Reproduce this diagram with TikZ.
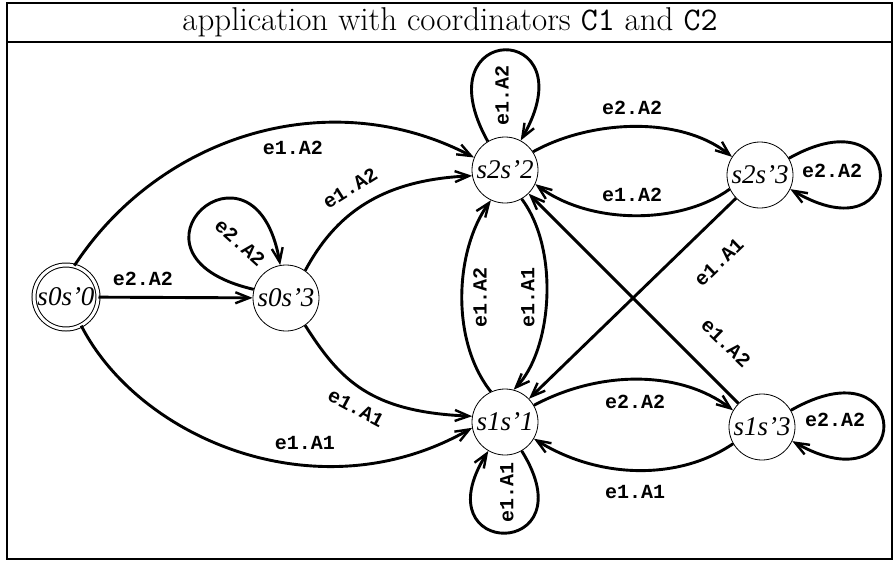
\documentclass[tikz,border=0pt]{standalone}
\usepackage{fontspec}
\newfontfamily\statefont[Ligatures=TeX]{Liberation Serif}
\newfontfamily\labelfont{Liberation Mono}
\usetikzlibrary{arrows.meta}

\begin{document}
\begin{tikzpicture}[x=0.5pt,y=0.5pt,
	state/.style={draw,circle,line width=0.4pt,minimum size=33pt,inner sep=0pt,font=\statefont\itshape\fontsize{13.5}{15}\selectfont},
	trans/.style={line width=1.45pt,-{Straight Barb[length=7pt,width=5.5pt,line width=1.2pt]}},
	lbl/.style={font=\labelfont\bfseries\fontsize{10}{12}\selectfont,inner sep=1pt}]
	\useasboundingbox (0,0) rectangle (894,-563);
	\draw [line width=0.85pt] (7,-3) rectangle (892,-559);
	\draw [line width=0.85pt] (7,-42) -- (892,-42);
	\node (title) at (450,-22) {\fontsize{16.5}{19}\selectfont application with coordinators \texttt{C1} and \texttt{C2}};
	\node [state,double,line width=0.5pt,double distance=1.5pt,minimum size=32pt] (s0s0) at (66,-297) {s0s'0};
	\node [state] (s0s3) at (286,-298) {s0s'3};
	\node [state] (s2s2) at (505,-170) {s2s'2};
	\node [state] (s2s3) at (760,-175) {s2s'3};
	\node [state] (s1s1) at (505,-422) {s1s'1};
	\node [state] (s1s3) at (762,-427) {s1s'3};
	\draw [trans] (s0s0.75) .. controls (160,-135) and (330,-82) .. (s2s2.158);
	\node [lbl] (t1) at (293,-148) {e1.A2};
	\draw [trans] (s0s0) -- (s0s3);
	\node [lbl] (t2) at (143,-279) {e2.A2};
	\draw [trans] (s0s0.-62) .. controls (140,-440) and (320,-515) .. (s1s1.190);
	\node [lbl] (t3) at (305,-443) {e1.A1};
	\draw [trans] (s0s3.165) .. controls (105,-255) and (255,-120) .. (s0s3.100);
	\node [lbl,rotate=-42] (t4) at (240,-243) {e2.A2};
	\draw [trans] (s0s3.55) .. controls (335,-215) and (380,-180) .. (s2s2.190);
	\node [lbl,rotate=32] (t5) at (350,-188) {e1.A2};
	\draw [trans] (s0s3.-55) .. controls (340,-380) and (370,-412) .. (s1s1.170);
	\node [lbl,rotate=-28] (t6) at (356,-408) {e1.A1};
	\draw [trans] (s2s2.121) .. controls (420,-20) and (590,-20) .. (s2s2.62);
	\node [lbl,rotate=90] (t7) at (502,-95) {e1.A2};
	\draw [trans] (s2s2.33) .. controls (590,-120) and (680,-115) .. (s2s3.147);
	\node [lbl] (t8) at (632,-108) {e2.A2};
	\draw [trans] (s2s3.205) .. controls (680,-225) and (590,-225) .. (s2s2.-25);
	\node [lbl] (t9) at (632,-195) {e1.A2};
	\draw [trans] (s2s3.30) .. controls (910,-90) and (910,-260) .. (s2s3.-25);
	\node [lbl] (t10) at (832,-171) {e2.A2};
	\draw [trans] (s2s3) -- (s1s1);
	\node [lbl,rotate=44] (t11) at (719,-262) {e1.A1};
	\draw [trans] (s1s3) -- (s2s2);
	\node [lbl,rotate=-44] (t12) at (726,-343) {e1.A2};
	\draw [trans] (s2s2.-60) .. controls (560,-250) and (552,-350) .. (s1s1.75);
	\node [lbl,rotate=90] (t13) at (528,-297) {e1.A1};
	\draw [trans] (s1s1.115) .. controls (450,-340) and (455,-250) .. (s2s2.-115);
	\node [lbl,rotate=90] (t14) at (480,-297) {e1.A2};
	\draw [trans] (s1s1.30) .. controls (600,-370) and (680,-370) .. (s1s3.150);
	\node [lbl] (t15) at (635,-402) {e2.A2};
	\draw [trans] (s1s3.210) .. controls (680,-480) and (600,-480) .. (s1s1.-30);
	\node [lbl] (t16) at (635,-492) {e1.A1};
	\draw [trans] (s1s3.30) .. controls (914,-340) and (914,-510) .. (s1s3.-25);
	\node [lbl] (t17) at (835,-420) {e2.A2};
	\draw [trans] (s1s1.-60) .. controls (590,-560) and (420,-560) .. (s1s1.-120);
	\node [lbl,rotate=90] (t18) at (507,-492) {e1.A1};
\end{tikzpicture}
\end{document}
